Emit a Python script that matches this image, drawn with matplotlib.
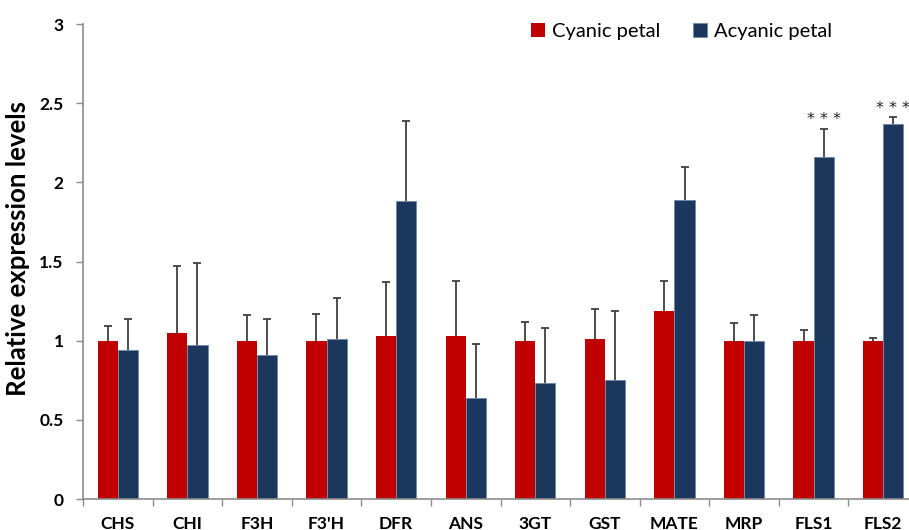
import matplotlib
matplotlib.use("Agg")
import matplotlib.pyplot as plt
import numpy as np

genes = ["CHS", "CHI", "F3H", "F3'H", "DFR", "ANS", "3GT", "GST", "MATE", "MRP", "FLS1", "FLS2"]
cyanic = [1.00, 1.05, 1.00, 1.00, 1.03, 1.03, 1.00, 1.01, 1.19, 1.00, 1.00, 1.00]
cyanic_err = [0.09, 0.42, 0.16, 0.17, 0.34, 0.35, 0.12, 0.19, 0.19, 0.11, 0.07, 0.02]
acyanic = [0.94, 0.97, 0.91, 1.01, 1.88, 0.64, 0.73, 0.75, 1.89, 1.00, 2.16, 2.37]
acyanic_err = [0.20, 0.52, 0.23, 0.26, 0.51, 0.34, 0.35, 0.44, 0.21, 0.16, 0.18, 0.04]
signif = ["", "", "", "", "", "", "", "", "", "", "* * *", "* * *"]
yticks = [0, 0.5, 1, 1.5, 2, 2.5, 3]
ytick_labels = ["0", "0.5", "1", "1.5", "2", "2.5", "3"]

plt.rcParams['font.family'] = ['Lato', 'DejaVu Sans']

fig = plt.figure(figsize=(9.09, 5.30), dpi=100)
ax = fig.add_axes([83/909, 31/530, 835/909, 475/530])

x = np.arange(len(genes))
w = 0.29
red = "#C00000"
blue = "#1B375C"
ax.bar(x - w/2, cyanic, w, color=red, label="Cyanic petal", zorder=2)
ax.bar(x + w/2, acyanic, w, color=blue, edgecolor="#6F86A6", linewidth=0.6,
       label="Acyanic petal", zorder=2)

ekw = dict(fmt="none", ecolor="#404040", elinewidth=1.3, capsize=3.2, capthick=1.3, zorder=3)
for xs, vals, errs in [(x - w/2, cyanic, cyanic_err), (x + w/2, acyanic, acyanic_err)]:
    _, caps, _ = ax.errorbar(xs, vals, yerr=[np.zeros(len(xs)), errs], **ekw)
    caps[0].set_visible(False)

for i, s in enumerate(signif):
    if s:
        ax.text(x[i] + w/2, acyanic[i] + acyanic_err[i] + 0.01, s, ha="center", va="bottom",
                fontsize=11.5, color="#222222", family="DejaVu Sans")

ax.set_xlim(-0.5, len(genes) - 0.5)
ax.set_ylim(0, 3)
ax.set_yticks(yticks)
ax.set_yticklabels(ytick_labels, fontsize=12.5, fontweight="bold")
ax.set_xticks(x)
ax.set_xticklabels(genes, fontsize=12.5, fontweight="bold")
ax.set_xticks(np.arange(-0.5, len(genes), 1.0), minor=True)
ax.tick_params(axis="x", which="major", length=0, pad=12)
ax.tick_params(axis="x", which="minor", length=5, color="#8C8C8C", width=1)
ax.tick_params(axis="y", length=5, color="#8C8C8C", width=1, pad=9)

for s in ["top", "right"]:
    ax.spines[s].set_visible(False)
for s in ["left", "bottom"]:
    ax.spines[s].set_color("#8C8C8C")
    ax.spines[s].set_linewidth(1.2)

ax.set_ylabel("Relative expression levels", fontsize=18.5, fontweight="bold")
ax.yaxis.set_label_coords(-53/835, 0.527)

leg = ax.legend(loc="upper left", bbox_to_anchor=(0.515, 1.04), ncol=2, frameon=False,
                fontsize=14.5, handlelength=0.7, handleheight=0.7, handletextpad=0.35,
                columnspacing=1.6)

fig.savefig("out.png", dpi=100)
